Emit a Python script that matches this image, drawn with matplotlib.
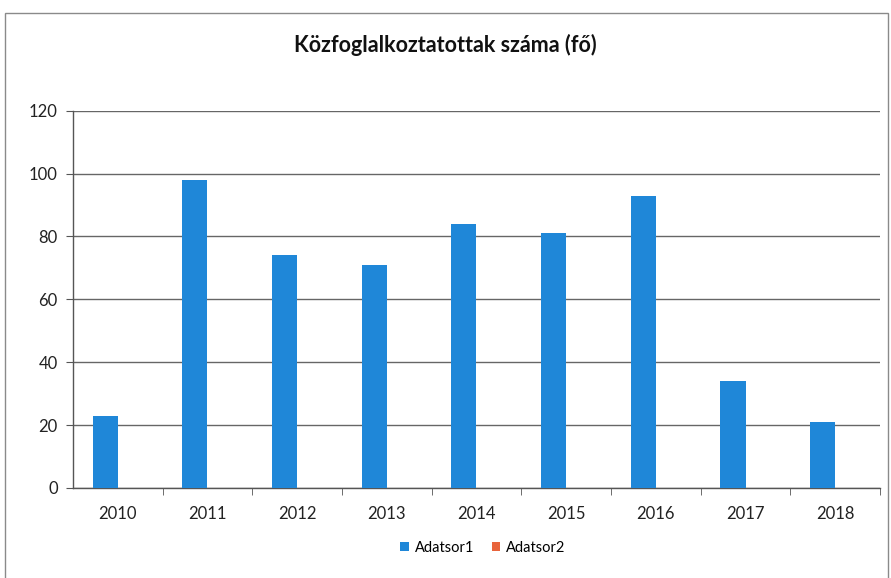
import matplotlib
matplotlib.use("Agg")
import matplotlib.pyplot as plt
import numpy as np
from matplotlib.patches import Rectangle

years = ["2010", "2011", "2012", "2013", "2014", "2015", "2016", "2017", "2018"]
adatsor1 = [23, 98, 74, 71, 84, 81, 93, 34, 21]
adatsor2 = [0, 0, 0, 0, 0, 0, 0, 0, 0]
y_ticks = [0, 20, 40, 60, 80, 100, 120]
title = "Közfoglalkoztatottak száma (fő)"

plt.rcParams['font.family'] = ['Lato', 'DejaVu Sans']

fig = plt.figure(figsize=(8.91, 5.78), dpi=100)
ax = fig.add_axes([73/891, 90/578, (880-73)/891, (488-110.7)/578])

x = np.arange(len(years))
w = 0.28
blue = "#1f87d8"
orange = "#e8643c"
ax.bar(x - w/2, adatsor1, width=w, color=blue, label="Adatsor1", zorder=3)
ax.bar(x + w/2, adatsor2, width=w, color=orange, label="Adatsor2", zorder=3, linewidth=0)

ax.set_xlim(-0.5, len(years) - 0.5)
ax.set_ylim(0, 120)
ax.set_yticks(y_ticks)
ax.set_yticklabels([str(v) for v in y_ticks], fontsize=12, color="#222222")
ax.set_xticks(x)
ax.set_xticklabels(years, fontsize=12, color="#222222")
ax.set_xticks(np.arange(len(years)) + 0.5, minor=True)
ax.tick_params(axis='x', which='major', length=0, pad=13)
ax.tick_params(axis='x', which='minor', length=5, direction='out', color="#555555")
ax.tick_params(axis='y', length=5, direction='out', color="#555555", pad=6)

ax.yaxis.grid(True, color="#666666", linewidth=1, zorder=0)
ax.set_axisbelow(True)
for s in ['top', 'right']:
    ax.spines[s].set_visible(False)
for s in ['left', 'bottom']:
    ax.spines[s].set_color("#555555")
    ax.spines[s].set_linewidth(1)

fig.text(445/891, 1 - 45/578, title, ha='center', va='center',
         fontsize=15.5, fontweight='bold', color="#111111")

leg = fig.legend(loc='center', bbox_to_anchor=(483/891, 1 - 548/578), ncol=2,
                 frameon=False, fontsize=10.5, handlelength=0.6, handleheight=0.6,
                 handletextpad=0.4, columnspacing=1.2)

fig.patches.append(Rectangle((5/891, -0.01), 883/891, 1 - 13/578 + 0.01,
                             transform=fig.transFigure, fill=False,
                             edgecolor="#8a8a8a", linewidth=1))

fig.savefig("out.png", dpi=100)
